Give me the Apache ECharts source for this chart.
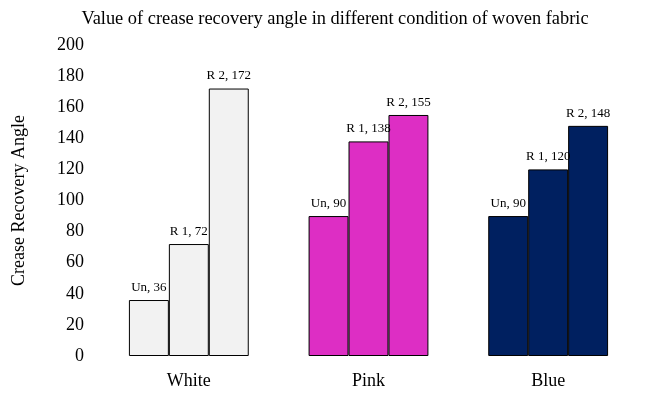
<!DOCTYPE html>
<html>
<head>
<meta charset="utf-8">
<script src="https://cdn.jsdelivr.net/npm/echarts@6/dist/echarts.min.js"></script>
<style>
  html, body { margin: 0; padding: 0; background: #fff; }
  #chart { width: 647px; height: 397px; }
</style>
</head>
<body>
<div id="chart"></div>
<script>
// fabric colour groups
const categories = ['White', 'Pink', 'Blue']
const groupColors = ['#f2f2f2', '#dd2ec4', '#002060']

// conditions
const seriesNames = ['Un', 'R 1', 'R 2']
const unData = [36, 90, 90]
const r1Data = [72, 138, 120]
const r2Data = [172, 155, 148]

const yTicks = [0, 20, 40, 60, 80, 100, 120, 140, 160, 180, 200]

const font = '"Liberation Serif", "Times New Roman", serif'

const makeSeries = (name, values) => ({
  name: name,
  type: 'bar',
  barGap: 0,
  barCategoryGap: '33.3%',
  data: values.map((v, i) => ({
    value: v,
    itemStyle: { color: groupColors[i] }
  })),
  itemStyle: {
    borderColor: '#000',
    borderWidth: 1
  },
  label: {
    show: true,
    position: 'top',
    distance: 6,
    formatter: (p) => p.seriesName + ', ' + p.value,
    fontFamily: font,
    fontSize: 13,
    color: '#000'
  }
})

const myChart = echarts.init(document.getElementById('chart'))
myChart.setOption({
  animation: false,
  title: {
    text: 'Value of crease recovery angle in different condition of woven fabric',
    left: 330,
    top: 5,
    textAlign: 'center',
    textStyle: {
      fontFamily: font,
      fontSize: 18.4,
      fontWeight: 'normal',
      color: '#000'
    }
  },
  grid: {
    left: 99,
    right: 9,
    top: 45,
    bottom: 41
  },
  xAxis: {
    type: 'category',
    data: categories,
    axisLine: { show: false },
    axisTick: { show: false },
    axisLabel: {
      margin: 16,
      fontFamily: font,
      fontSize: 18,
      color: '#000'
    }
  },
  yAxis: {
    type: 'value',
    min: yTicks[0],
    max: yTicks[yTicks.length - 1],
    interval: 20,
    name: 'Crease Recovery Angle',
    nameLocation: 'middle',
    nameGap: 71,
    nameRotate: 90,
    nameTextStyle: {
      fontFamily: font,
      fontSize: 18,
      color: '#000'
    },
    axisLine: { show: false },
    axisTick: { show: false },
    splitLine: { show: false },
    axisLabel: {
      margin: 15,
      fontFamily: font,
      fontSize: 18,
      color: '#000'
    }
  },
  series: [
    makeSeries(seriesNames[0], unData),
    makeSeries(seriesNames[1], r1Data),
    makeSeries(seriesNames[2], r2Data)
  ]
})
</script>
</body>
</html>
